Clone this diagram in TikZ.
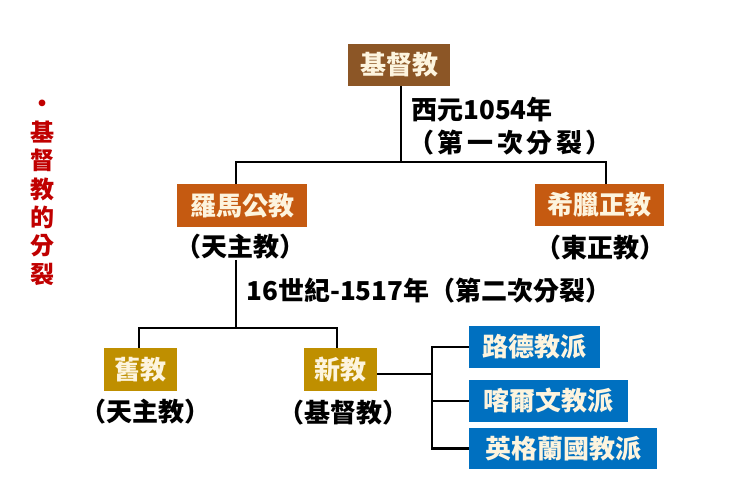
\documentclass[tikz,border=0pt]{standalone}
\usepackage{fontspec}
\newfontfamily\cjk{Noto Sans CJK TC}
\newfontfamily\cjkwide{Noto Sans CJK TC}[LetterSpace=14]
\definecolor{brownbox}{RGB}{140,86,38}
\definecolor{orangebox}{RGB}{197,90,17}
\definecolor{goldbox}{RGB}{191,143,0}
\definecolor{bluebox}{RGB}{0,112,192}
\definecolor{boxtext}{RGB}{253,244,222}
\definecolor{redtext}{RGB}{192,0,0}
\tikzset{
  box/.style={inner sep=0pt, minimum height=42pt, text=boxtext, font=\cjk\fontsize{26}{28}\selectfont\bfseries},
  lab/.style={inner sep=0pt, text=black, font=\cjk\fontsize{26}{28}\selectfont\bfseries},
  conn/.style={line width=2.5pt, draw=black}
}
\begin{document}
\begin{tikzpicture}[x=1pt,y=-1pt]
\useasboundingbox (0,0) rectangle (752,485);
% side title
\node[inner sep=0pt, text=redtext, align=center, font=\cjk\fontsize{24}{28.4}\selectfont\bfseries] (title) at (42,193) {·\\基\\督\\教\\的\\分\\裂};
% boxes
\node[box, fill=brownbox, minimum width=102pt] (jdj) at (399,65) {基督教};
\node[box, fill=orangebox, minimum width=130pt, minimum height=43pt] (lm) at (242,205.5) {羅馬公教};
\node[box, fill=orangebox, minimum width=129pt] (xl) at (599.5,205) {希臘正教};
\node[box, fill=goldbox, minimum width=73pt, minimum height=43pt] (jj) at (140.5,369.5) {舊教};
\node[box, fill=goldbox, minimum width=73pt, minimum height=43pt] (xj) at (340.5,369.5) {新教};
\node[box, fill=bluebox, minimum width=131pt] (ld) at (534.5,347) {路德教派};
\node[box, fill=bluebox, minimum width=159pt] (kw) at (548.5,401) {喀爾文教派};
\node[box, fill=bluebox, minimum width=188pt, minimum height=41pt] (yg) at (563,448.5) {英格蘭國教派};
% labels
\node[lab] (lmlab) at (240,247) {（天主教）};
\node[lab] (xllab) at (600,248) {（東正教）};
\node[lab] (jjlab) at (145,412) {（天主教）};
\node[lab] (xjlab) at (343,413) {（基督教）};
\node[lab] (yr1) at (482,110) {西元1054年};
\node[lab, font=\cjkwide\fontsize{26}{28}\selectfont\bfseries] (yr1b) at (510,143) {（第一次分裂）};
\node[lab] (yr2) at (429,291) {16世紀-1517年（第二次分裂）};
% junctions
\coordinate (s1) at (401,162);
\coordinate (s2) at (236,328);
\coordinate (b) at (432,374);
% connectors
\draw[conn] (jdj.south -| s1) -- (s1);
\draw[conn] ([xshift=-6pt]lm.north) |- (s1) -| ([xshift=6.5pt]xl.north);
\draw[conn] (lmlab.south -| s2) -- (s2);
\draw[conn] ([xshift=-1.5pt]jj.north) |- (s2) -| ([xshift=-3.5pt]xj.north);
\draw[conn] (xj.east |- b) -- (b);
\draw[conn] (ld.west) -- (ld.west -| b) -- (yg.west -| b) -- (yg.west);
\draw[conn] (kw.west) -- (kw.west -| b);
\end{tikzpicture}
\end{document}
